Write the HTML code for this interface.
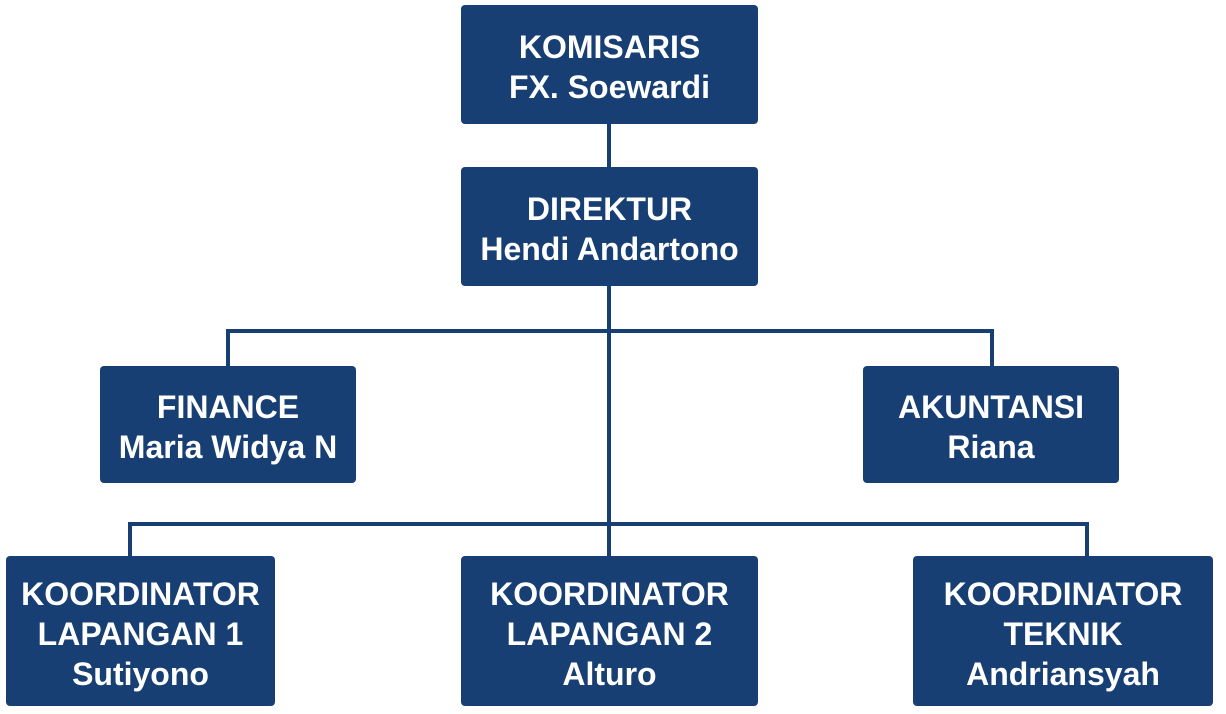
<!DOCTYPE html>
<html><head><style>
body{margin:0;width:1226px;height:714px;background:#fff;position:relative;overflow:hidden;font-family:"Liberation Sans",sans-serif}
.b{position:absolute;background:#173f73;border-radius:4px;color:#fff;font-weight:bold;font-size:32px;line-height:40px;display:flex;flex-direction:column;justify-content:center;align-items:center;text-align:center;white-space:nowrap;box-sizing:border-box;padding-top:5px}
.l{position:absolute;background:#173f73}
</style></head><body>
<div class="l" style="left:607px;top:120px;width:4px;height:440px"></div>
<div class="l" style="left:226px;top:329px;width:768px;height:4px"></div>
<div class="l" style="left:226px;top:329px;width:4px;height:40px"></div>
<div class="l" style="left:990px;top:329px;width:4px;height:40px"></div>
<div class="l" style="left:128px;top:522px;width:961px;height:4px"></div>
<div class="l" style="left:128px;top:522px;width:4px;height:36px"></div>
<div class="l" style="left:1085px;top:522px;width:4px;height:36px"></div>
<div class="b" style="left:461px;top:5px;width:297px;height:119px"><div>KOMISARIS</div><div>FX. Soewardi</div></div>
<div class="b" style="left:461px;top:167px;width:297px;height:119px"><div>DIREKTUR</div><div>Hendi Andartono</div></div>
<div class="b" style="left:100px;top:366px;width:256px;height:117px"><div>FINANCE</div><div>Maria Widya N</div></div>
<div class="b" style="left:863px;top:366px;width:256px;height:117px"><div>AKUNTANSI</div><div>Riana</div></div>
<div class="b" style="left:6px;top:556px;width:269px;height:150px"><div>KOORDINATOR</div><div>LAPANGAN 1</div><div>Sutiyono</div></div>
<div class="b" style="left:461px;top:556px;width:297px;height:150px"><div>KOORDINATOR</div><div>LAPANGAN 2</div><div>Alturo</div></div>
<div class="b" style="left:913px;top:556px;width:300px;height:150px"><div>KOORDINATOR</div><div>TEKNIK</div><div>Andriansyah</div></div>
</body></html>
